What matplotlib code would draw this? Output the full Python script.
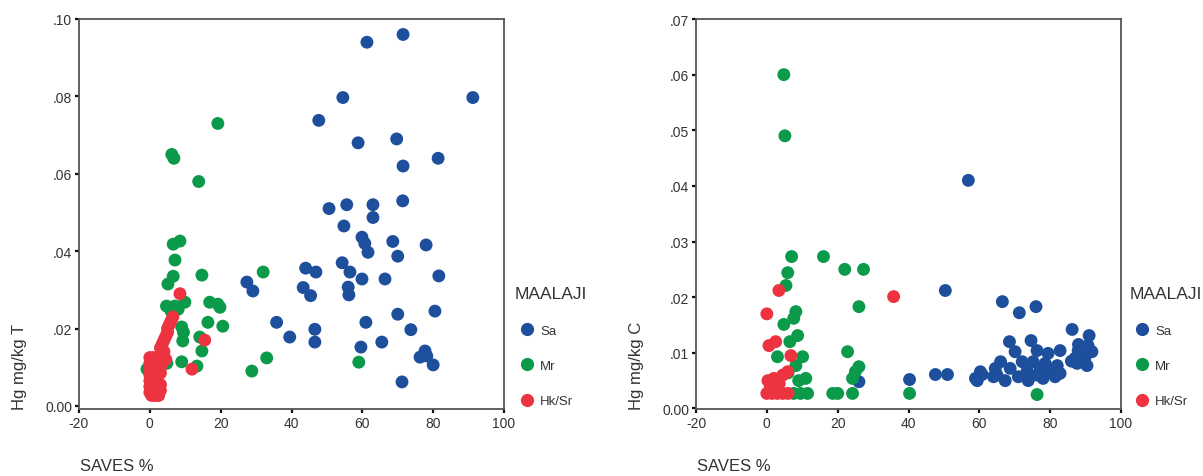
import matplotlib
matplotlib.use("Agg")
import matplotlib.pyplot as plt
from matplotlib.lines import Line2D

plt.rcParams['font.family'] = ['Liberation Sans', 'DejaVu Sans']

# ---------------- data: left panel (Hg mg/kg T) ----------------
T_sa_x = [61.3, 71.5, 54.5, 91.2, 47.7, 58.8, 69.7, 81.4, 71.5, 50.6, 55.6, 63.0, 63.0, 71.4,
          54.8, 59.9, 60.7, 61.6, 68.6, 70.0, 78.0, 54.3, 56.5, 59.9, 66.4, 81.6, 44.0, 46.9,
          43.3, 45.4, 56.0, 56.2, 70.0, 80.5, 61.0, 73.7, 35.8, 39.5, 46.6, 46.6, 65.5, 59.6,
          77.7, 76.3, 78.2, 80.0, 71.2, 27.4, 29.1]
T_sa_y = [0.094, 0.096, 0.0797, 0.0797, 0.0738, 0.068, 0.069, 0.064, 0.062, 0.051, 0.052, 0.052,
          0.0487, 0.053, 0.0465, 0.0436, 0.042, 0.0397, 0.0425, 0.0387, 0.0416, 0.037, 0.0346,
          0.0328, 0.0328, 0.0336, 0.0356, 0.0346, 0.0306, 0.0285, 0.0307, 0.0287, 0.0237,
          0.0245, 0.0216, 0.0197, 0.0216, 0.0178, 0.0198, 0.0165, 0.0165, 0.0152, 0.0142,
          0.0126, 0.0129, 0.0106, 0.0062, 0.032, 0.0297]

T_mr_x = [6.2, 6.8, 19.2, 13.8, 6.6, 8.5, 7.1, 6.6, 5.1, 14.7, 4.7, 7.1, 9.9, 16.9, 19.2, 19.8,
          16.4, 20.6, 9.0, 9.3, 9.5, 14.1, 14.7, 9.0, 13.3, 28.8, 33.0, 32.0, 59.0, -0.8, 4.8,
          8.0, 6.0]
T_mr_y = [0.065, 0.064, 0.073, 0.058, 0.0418, 0.0426, 0.0377, 0.0335, 0.0315, 0.0338, 0.0258,
          0.0258, 0.0268, 0.0268, 0.0263, 0.0255, 0.0216, 0.0206, 0.0204, 0.0168, 0.019, 0.0178,
          0.0142, 0.0114, 0.0103, 0.009, 0.0124, 0.0346, 0.0113, 0.0095, 0.011, 0.025, 0.0245]

T_hk_x = [0, 1, 2, 3, 0, 1, 2, 3, 0, 1, 2, 3, 0, 1, 2, 3, 0, 1, 2, 0, 1, 2, 3, 0, 1, 2, 3, 0.5,
          1.5, 2.5, 3.0, 3.5, 4.0, 4.5, 5.0, 5.0, 5.5, 6.0, 6.5, 4.0, 4.5, 8.5, 15.5, 11.9]
T_hk_y = [0.0125, 0.0125, 0.0125, 0.013, 0.011, 0.011, 0.011, 0.0115, 0.0095, 0.0095, 0.0095,
          0.010, 0.008, 0.008, 0.008, 0.0085, 0.0065, 0.0065, 0.0065, 0.005, 0.005, 0.005,
          0.0055, 0.0035, 0.0035, 0.0035, 0.004, 0.0027, 0.0027, 0.0027, 0.015, 0.016, 0.017,
          0.018, 0.019, 0.020, 0.021, 0.022, 0.023, 0.014, 0.012, 0.029, 0.017, 0.0095]

# ---------------- data: right panel (Hg mg/kg C) ----------------
C_sa_x = [56.9, 50.4, 66.5, 71.3, 76.0, 86.2, 91.0, 68.5, 74.6, 40.3, 47.6, 51.0, 59.4, 60.8,
          66.0, 65.0, 67.3, 26.0, 90.7, 70.1, 76.3, 79.4, 82.8, 87.9, 87.0, 89.9, 91.8, 72.1,
          75.2, 78.6, 82.0, 87.6, 90.4, 64.5, 68.7, 73.5, 77.2, 80.0, 82.8, 60.3, 58.9, 64.0,
          71.0, 73.8, 78.0, 81.4, 76.3, 88.0, 86.0]
C_sa_y = [0.041, 0.0212, 0.0192, 0.0172, 0.0183, 0.0142, 0.0131, 0.012, 0.0122, 0.0052, 0.0061,
          0.0061, 0.005, 0.0061, 0.0084, 0.006, 0.005, 0.0048, 0.0113, 0.0102, 0.0104, 0.0099,
          0.0104, 0.0104, 0.009, 0.0093, 0.0102, 0.0084, 0.0084, 0.0081, 0.0077, 0.0081, 0.0077,
          0.0072, 0.0072, 0.0068, 0.0072, 0.0066, 0.0063, 0.0066, 0.0054, 0.0057, 0.0057, 0.005,
          0.0054, 0.0057, 0.006, 0.0115, 0.0085]

C_mr_x = [4.8, 5.1, 7.0, 16.0, 22.0, 27.3, 5.9, 5.4, 26.0, 8.2, 7.6, 4.8, 8.7, 22.8, 3.0, 10.1,
          8.2, 26.0, 11.0, 24.2, 25.0, 7.6, 9.5, 11.5, 18.6, 20.0, 24.2, 40.3, 76.3, 6.5, 9.0, 6.0]
C_mr_y = [0.060, 0.049, 0.0273, 0.0273, 0.025, 0.025, 0.0244, 0.0221, 0.0183, 0.0174, 0.0162,
          0.0151, 0.0131, 0.0102, 0.0093, 0.0093, 0.0077, 0.0075, 0.0054, 0.0054, 0.0066, 0.0027,
          0.0027, 0.0027, 0.0027, 0.0027, 0.0027, 0.0027, 0.0025, 0.012, 0.005, 0.0064]

C_hk_x = [3.4, 0.0, 35.8, 6.8, 0.6, 2.5, 0.3, 2.0, 4.5, 5.9, 0.0, 1.5, 3.0, 4.5, 6.0, 1.0, 3.5]
C_hk_y = [0.0212, 0.017, 0.0201, 0.0095, 0.0113, 0.012, 0.005, 0.0054, 0.006, 0.0066, 0.0027,
          0.0027, 0.0027, 0.0027, 0.0027, 0.004, 0.0045]

groups = ['Sa', 'Mr', 'Hk/Sr']
colors = ['#1d4f9c', '#0a9a4a', '#ee3340']

x_ticks = [-20, 0, 20, 40, 60, 80, 100]
T_yticks = [0.00, 0.02, 0.04, 0.06, 0.08, 0.10]
T_ylabels = ['0.00', '.02', '.04', '.06', '.08', '.10']
C_yticks = [0.00, 0.01, 0.02, 0.03, 0.04, 0.05, 0.06, 0.07]
C_ylabels = ['0.00', '.01', '.02', '.03', '.04', '.05', '.06', '.07']

W, H = 1203, 477
fig = plt.figure(figsize=(W / 100, H / 100), dpi=100)

def px(x0, y0, x1, y1):
    return [x0 / W, 1 - y1 / H, (x1 - x0) / W, (y1 - y0) / H]

axL = fig.add_axes(px(79, 20, 504, 410))
axR = fig.add_axes(px(696, 20, 1121, 410))

panels = [
    (axL, [(T_sa_x, T_sa_y), (T_mr_x, T_mr_y), (T_hk_x, T_hk_y)], T_yticks, T_ylabels,
     (-0.0008, 0.10), 'Hg mg/kg T', 20, 80, 515),
    (axR, [(C_sa_x, C_sa_y), (C_mr_x, C_mr_y), (C_hk_x, C_hk_y)], C_yticks, C_ylabels,
     (-0.0001, 0.07), 'Hg mg/kg C', 637, 697, 1130),
]

for ax, data, yt, yl, ylim, ylabel, ylx, xlx, legx in panels:
    for (xs, ys), c in zip(data, colors):
        ax.scatter(xs, ys, s=86, color=c, edgecolors='none', zorder=3)
    ax.set_xlim(-20, 100)
    ax.set_ylim(*ylim)
    ax.set_xticks(x_ticks)
    ax.set_xticklabels([str(v) for v in x_ticks])
    ax.set_yticks(yt)
    ax.set_yticklabels(yl)
    for s in ax.spines.values():
        s.set_color('#555555')
        s.set_linewidth(1.3)
    ax.tick_params(axis='both', direction='out', length=3, width=1.6, color='#111111',
                   labelsize=10, labelcolor='#333333', pad=2)
    ax.tick_params(top=False, right=False)
    fig.text(ylx / W, 1 - 410 / H, ylabel, rotation=90, ha='center', va='bottom',
             fontsize=12, color='#333333')
    fig.text(xlx / W, 1 - 467 / H, 'SAVES %', ha='left', va='center', fontsize=12,
             color='#333333')
    handles = [Line2D([], [], linestyle='none', marker='o', markersize=9.5, color=c,
                      markeredgecolor='none') for c in colors]
    leg = fig.legend(handles, groups, title='MAALAJI', loc='upper left',
                     bbox_to_anchor=((legx - 6) / W, 1 - 282 / H), frameon=False,
                     fontsize=9.5, title_fontsize=12.5, alignment='left',
                     handletextpad=0.05, labelspacing=1.75, handlelength=1.9,
                     borderaxespad=0)
    for t in leg.get_texts():
        t.set_color('#333333')
    leg.get_title().set_color('#333333')

fig.savefig('out.png', dpi=100, facecolor='white')
